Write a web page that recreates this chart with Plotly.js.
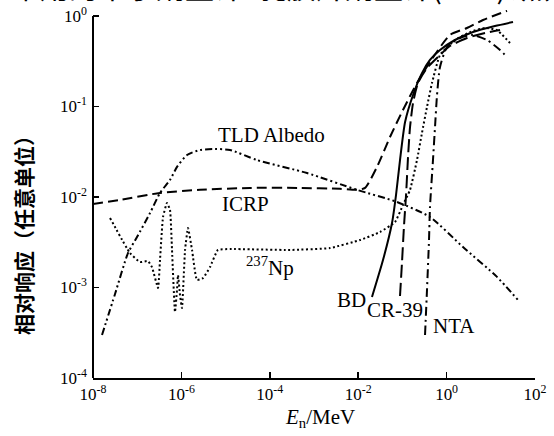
<!DOCTYPE html>
<html>
<head>
<meta charset="utf-8">
<script src="https://cdn.plot.ly/plotly-3.0.1.min.js"></script>
<style>
  html, body { margin: 0; padding: 0; background: #fff; }
  #chart { width: 554px; height: 436px; }
</style>
</head>
<body>
<div id="chart"></div>
<script>
// ---------- data ----------
const xTickVals = [1e-8, 1e-6, 1e-4, 1e-2, 1, 100];
const xTickText = ['10<sup>-8</sup>', '10<sup>-6</sup>', '10<sup>-4</sup>', '10<sup>-2</sup>', '10<sup>0</sup>', '10<sup>2</sup>'];
const yTickVals = [1e-4, 1e-3, 1e-2, 1e-1, 1];
const yTickText = ['10<sup>-4</sup>', '10<sup>-3</sup>', '10<sup>-2</sup>', '10<sup>-1</sup>', '10<sup>0</sup>'];

const E_ICRP = [1.00e-8, 4.08e-8, 3.28e-7, 2.64e-6, 3.56e-5, 4.82e-4, 3.87e-3, 9.39e-3, 1.43e-2, 2.66e-2, 5.24e-2, 0.103, 0.214, 0.421, 1.19, 2.89, 6.66, 23.3];
const R_ICRP = [8.37e-3, 9.26e-3, 1.11e-2, 1.20e-2, 1.26e-2, 1.26e-2, 1.23e-2, 1.20e-2, 1.26e-2, 2.15e-2, 4.60e-2, 9.15e-2, 0.182, 0.310, 0.617, 0.737, 0.903, 1.14];

const E_TLD = [1.60e-8, 3.15e-8, 6.19e-8, 9.90e-8, 1.95e-7, 3.28e-7, 5.52e-7, 7.95e-7, 1.34e-6, 2.64e-6, 5.75e-6, 1.26e-5, 5.13e-5, 6.95e-4, 9.39e-3, 7.55e-2, 0.421, 2.35, 13.8, 41.3];
const R_TLD = [2.99e-4, 8.48e-4, 2.40e-3, 3.61e-3, 6.65e-3, 1.11e-2, 1.54e-2, 2.15e-2, 2.91e-2, 3.31e-2, 3.39e-2, 3.31e-2, 2.56e-2, 1.84e-2, 1.20e-2, 8.81e-3, 6.01e-3, 2.80e-3, 1.31e-3, 7.27e-4];

const E_NP = [2.43e-8, 6.87e-8, 1.16e-7, 1.75e-7, 2.16e-7, 2.96e-7, 3.28e-7, 3.84e-7, 4.72e-7, 5.52e-7, 6.13e-7, 7.16e-7, 7.95e-7, 8.38e-7, 9.30e-7, 1.03e-6, 1.21e-6, 1.41e-6, 1.74e-6, 2.25e-6, 3.08e-6, 4.44e-6, 6.73e-6, 1.26e-5, 2.86e-4, 2.30e-3, 1.10e-2, 3.11e-2, 6.80e-2, 0.103, 0.149, 0.214, 0.277, 0.360, 0.467, 0.709, 1.55, 3.38, 7.39, 13.8, 27.2];
const R_NP = [5.86e-3, 2.40e-3, 1.91e-3, 1.96e-3, 1.68e-3, 9.87e-4, 2.01e-3, 6.01e-3, 8.59e-3, 7.19e-3, 2.60e-3, 5.36e-4, 9.39e-4, 1.37e-3, 8.26e-4, 5.93e-4, 2.60e-3, 4.54e-3, 2.60e-3, 1.21e-3, 1.27e-3, 1.68e-3, 2.60e-3, 2.66e-3, 2.60e-3, 2.73e-3, 3.35e-3, 4.10e-3, 5.29e-3, 8.16e-3, 1.20e-2, 2.56e-2, 5.10e-2, 9.88e-2, 0.182, 0.371, 0.543, 0.666, 0.737, 0.700, 0.503];

const E_BD = [2.05e-2, 3.64e-2, 5.82e-2, 7.17e-2, 8.83e-2, 0.115, 0.174, 0.277, 0.421, 0.709, 1.55, 3.96, 12.4, 31.8];
const R_BD = [7.85e-4, 2.01e-3, 5.16e-3, 1.05e-2, 2.56e-2, 6.74e-2, 0.134, 0.234, 0.327, 0.421, 0.543, 0.666, 0.775, 0.858];

const E_CR39 = [8.83e-2, 9.80e-2, 0.109, 0.121, 0.134, 0.149, 0.174, 0.225, 0.360, 0.709, 1.19, 2.89, 7.39, 16.2];
const R_CR39 = [8.06e-4, 1.91e-3, 4.90e-3, 1.05e-2, 2.77e-2, 5.94e-2, 0.109, 0.182, 0.266, 0.371, 0.466, 0.571, 0.649, 0.700];

const E_NTA = [0.325, 0.360, 0.400, 0.421, 0.492, 0.547, 0.607, 0.709, 1.02, 2.01, 3.76, 8.20, 16.2, 23.3];
const R_NTA = [2.99e-4, 9.39e-4, 3.35e-3, 7.75e-3, 2.56e-2, 5.94e-2, 0.134, 0.273, 0.454, 0.571, 0.617, 0.543, 0.421, 0.352];

const seriesNames = ['ICRP', 'TLD Albedo', '237Np', 'BD', 'CR-39', 'NTA'];
const curveLabels = ['ICRP', 'TLD Albedo', '<sup>237</sup>Np', 'BD', 'CR-39', 'NTA'];
const xTitle = '<i>E</i><sub>n</sub>/MeV';
const yTitle = '相对响应（任意单位）';
const topTextParts = ['常用的中子剂量计:', '乳胶片剂量计(NTA)､热释光'];

// ---------- layout helpers ----------
const W = 554, H = 436, ML = 93, MR = 19, MT = 10, MB = 58;
const PW = W - ML - MR, PH = H - MT - MB;
const pxX = x => (x - ML) / PW;
const pxY = y => (H - MB - y) / PH;
const SERIF = 'Liberation Serif, Times New Roman, serif';
const CJK = 'Noto Sans CJK SC, sans-serif';

function line(name, x, y, dash, width, smooth) {
  return {
    type: 'scatter', mode: 'lines', name: name, x: x, y: y,
    line: { color: '#000', width: width, dash: dash, shape: 'spline', smoothing: smooth },
    hoverinfo: 'skip'
  };
}

const traces = [
  line(seriesNames[0], E_ICRP, R_ICRP, '10px,5px', 2, 0.6),
  line(seriesNames[1], E_TLD, R_TLD, '7px,3px,2px,3px,2px,3px', 2, 0.6),
  line(seriesNames[2], E_NP, R_NP, '2px,2.5px', 2, 0.4),
  line(seriesNames[3], E_BD, R_BD, 'solid', 2, 0.6),
  line(seriesNames[4], E_CR39, R_CR39, '13px,5px', 2, 0.6),
  line(seriesNames[5], E_NTA, R_NTA, '9px,4px,2px,4px', 2, 0.6)
];

const labelPos = [[245, 204], [271, 135], [270, 266], [351, 300], [395, 310], [454, 326]];
const annotations = curveLabels.map((t, i) => ({
  text: t, xref: 'paper', yref: 'paper',
  x: pxX(labelPos[i][0]), y: pxY(labelPos[i][1]),
  xanchor: 'center', yanchor: 'middle', showarrow: false,
  font: { family: SERIF, size: 21, color: '#000' }
}));
annotations.push({
  text: xTitle, xref: 'paper', yref: 'paper',
  x: pxX(320), y: pxY(418), xanchor: 'center', yanchor: 'middle', showarrow: false,
  font: { family: SERIF, size: 21, color: '#000' }
});
annotations.push({
  text: yTitle, xref: 'paper', yref: 'paper', textangle: -90,
  x: pxX(23), y: pxY(230), xanchor: 'center', yanchor: 'middle', showarrow: false,
  font: { family: CJK, size: 21, color: '#000', weight: 'bold' }
});
const topPartX = [10, 257];
topTextParts.forEach((t, i) => annotations.push({
  text: t, xref: 'paper', yref: 'paper', borderpad: 0,
  x: pxX(topPartX[i]), y: pxY(-14), xanchor: 'left', yanchor: 'middle', showarrow: false,
  font: { family: CJK, size: 29, color: '#000' }
}));

const yTop = (16 - MT) / 90.5; // a little headroom above 10^0

const layout = {
  width: W, height: H,
  margin: { l: ML, r: MR, t: MT, b: MB, pad: 0 },
  paper_bgcolor: '#fff', plot_bgcolor: '#fff',
  showlegend: false,
  font: { family: SERIF, color: '#000' },
  xaxis: {
    type: 'log', range: [-8, 2], tickmode: 'array', tickvals: xTickVals, ticktext: xTickText,
    ticks: 'inside', ticklen: 6, tickwidth: 1.5, tickcolor: '#000',
    showline: true, linecolor: '#000', linewidth: 2, showgrid: false, zeroline: false,
    tickfont: { family: SERIF, size: 17, color: '#000' }, fixedrange: true
  },
  yaxis: {
    type: 'log', range: [-4, yTop], tickmode: 'array', tickvals: yTickVals, ticktext: yTickText,
    ticks: 'inside', ticklen: 6, tickwidth: 1.5, tickcolor: '#000',
    showline: false, showgrid: false, zeroline: false, ticklabelstandoff: 5,
    tickfont: { family: SERIF, size: 17, color: '#000' }, fixedrange: true
  },
  shapes: [{
    type: 'line', xref: 'paper', yref: 'paper', x0: 0, x1: 0, y0: 0, y1: pxY(16),
    line: { color: '#000', width: 2 }
  }],
  annotations: annotations
};

Plotly.newPlot('chart', traces, layout, { displayModeBar: false, staticPlot: true });
</script>
</body>
</html>
